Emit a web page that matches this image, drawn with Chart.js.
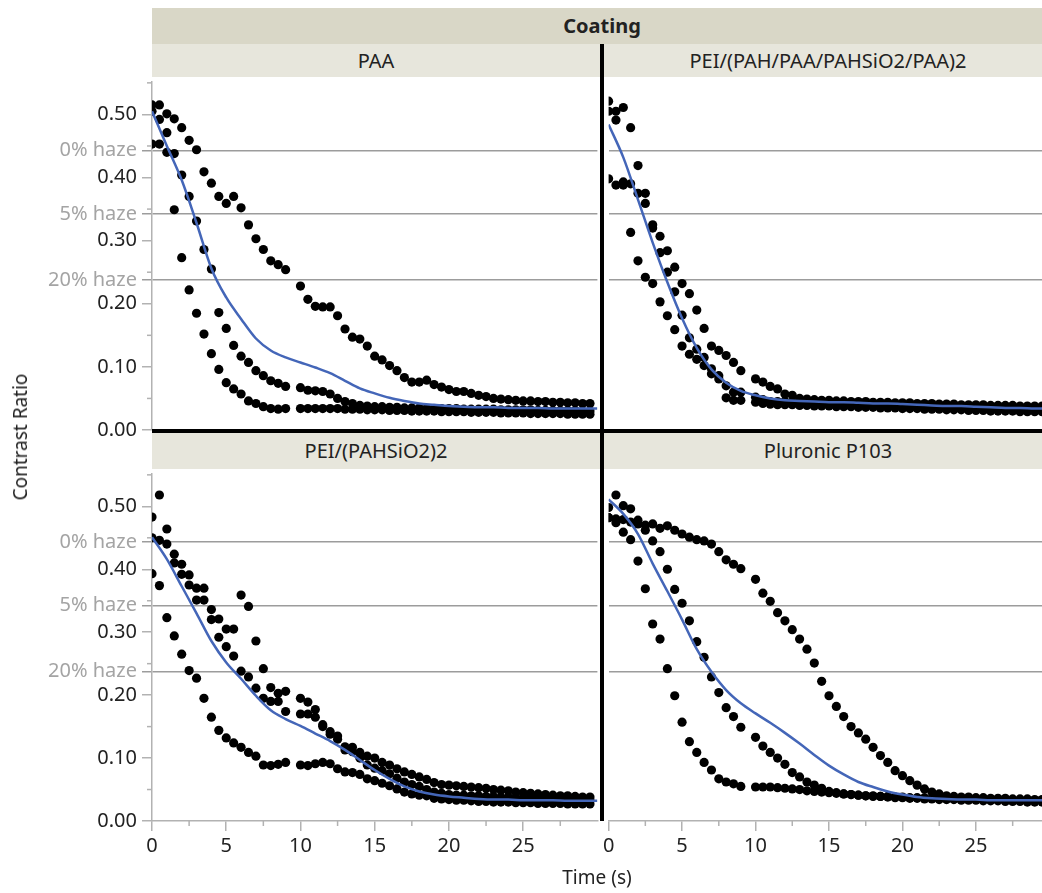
<!DOCTYPE html>
<html>
<head>
<meta charset="utf-8">
<script src="https://cdn.jsdelivr.net/npm/chart.js@4.4.1/dist/chart.umd.min.js"></script>
<style>
  body { margin:0; width:1042px; height:893px; overflow:hidden; background:#fff; position:relative; font-family:"Noto Sans","Open Sans",sans-serif; color:#222; }
  canvas { position:absolute; }
  .hdr { position:absolute; background:#d9d7c7; font-weight:bold; font-size:20px; text-align:center; line-height:36px; }
  .strip { position:absolute; background:#e7e6dc; font-size:20px; text-align:center; }
  .bar { position:absolute; background:#000; }
  .lbl { position:absolute; font-size:19px; white-space:nowrap; }
</style>
</head>
<body>
<canvas id="cTL" width="602" height="373" style="left:0;top:77px"></canvas>
<canvas id="cTR" width="450" height="373" style="left:604px;top:77px"></canvas>
<canvas id="cBL" width="602" height="410" style="left:0;top:469px"></canvas>
<canvas id="cBR" width="450" height="410" style="left:604px;top:469px"></canvas>

<div class="hdr" style="left:152px;top:8px;width:900px;height:36px">Coating</div>
<div class="strip" style="left:152px;top:44px;width:448px;height:33px;line-height:33px">PAA</div>
<div class="strip" style="left:604px;top:44px;width:448px;height:33px;line-height:33px">PEI/(PAH/PAA/PAHSiO2/PAA)2</div>
<div class="strip" style="left:152px;top:433px;width:448px;height:36px;line-height:36px">PEI/(PAHSiO2)2</div>
<div class="strip" style="left:604px;top:433px;width:448px;height:36px;line-height:36px">Pluronic P103</div>
<div class="bar" style="left:152px;top:429px;width:900px;height:4px"></div>
<div class="bar" style="left:600px;top:44px;width:4px;height:777px"></div>
<div class="lbl" style="left:597px;top:877px;transform:translate(-50%,-50%)">Time (s)</div>
<div class="lbl" style="left:20px;top:437px;transform:translate(-50%,-50%) rotate(-90deg)">Contrast Ratio</div>

<script>
// measurement times (s); 9.5 s is missing in every run
const time = [0,0.5,1,1.5,2,2.5,3,3.5,4,4.5,5,5.5,6,6.5,7,7.5,8,8.5,9,
  10,10.5,11,11.5,12,12.5,13,13.5,14,14.5,15,15.5,16,16.5,17,17.5,18,18.5,19,19.5,
  20,20.5,21,21.5,22,22.5,23,23.5,24,24.5,25,25.5,26,26.5,27,27.5,28,28.5,29,29.5];
const fitTime = [0,1,2,3,4,5,6,7,8,9,10,11,12,13,14,15,16,17,18,19,20,21,22,23,24,25,26,27,28,29,30];

// PAA
const paaRun1 = [0.515,0.515,0.501,0.493,0.479,0.459,0.444,0.409,0.391,0.370,0.359,0.370,0.352,0.325,0.303,0.286,0.268,0.262,0.254,
  0.228,0.207,0.196,0.195,0.195,0.181,0.160,0.147,0.144,0.133,0.117,0.111,0.102,0.094,0.083,0.076,0.076,0.079,0.072,0.068,
  0.064,0.061,0.061,0.058,0.055,0.053,0.050,0.049,0.048,0.047,0.046,0.046,0.045,0.045,0.044,0.044,0.043,0.043,0.042,0.042];
const paaRun2 = [0.505,0.492,0.471,0.438,0.404,0.370,0.331,0.286,0.255,0.186,0.161,0.134,0.117,0.107,0.094,0.086,0.078,0.074,0.069,
  0.067,0.063,0.062,0.061,0.057,0.050,0.045,0.042,0.039,0.038,0.037,0.037,0.036,0.036,0.035,0.035,0.035,0.034,0.034,0.034,
  0.034,0.034,0.033,0.033,0.033,0.033,0.033,0.032,0.032,0.032,0.032,0.032,0.031,0.031,0.031,0.031,0.031,0.031,0.030,0.030];
const paaRun3 = [0.453,0.453,0.440,0.349,0.273,0.222,0.185,0.152,0.121,0.096,0.075,0.065,0.057,0.046,0.042,0.037,0.034,0.033,0.034,
  0.034,0.034,0.034,0.034,0.034,0.034,0.033,0.033,0.033,0.032,0.032,0.032,0.031,0.031,0.031,0.030,0.030,0.030,0.030,0.029,
  0.029,0.029,0.029,0.028,0.028,0.028,0.028,0.027,0.027,0.027,0.027,0.026,0.026,0.026,0.026,0.026,0.025,0.025,0.025,0.025];
const paaFit = [0.505,0.450,0.396,0.328,0.256,0.210,0.176,0.145,0.126,0.115,0.107,0.099,0.090,0.078,0.066,0.058,
  0.051,0.046,0.042,0.040,0.038,0.037,0.036,0.036,0.035,0.035,0.035,0.034,0.034,0.034,0.034];

// PEI/(PAH/PAA/PAHSiO2/PAA)2
const peiMultiRun1 = [0.521,0.505,0.511,0.479,0.419,0.375,0.325,0.307,0.284,0.258,0.232,0.216,0.190,0.161,0.133,0.126,0.118,0.107,0.094,
  0.081,0.076,0.069,0.065,0.057,0.055,0.050,0.049,0.048,0.047,0.047,0.046,0.046,0.045,0.045,0.045,0.044,0.044,0.044,0.043,
  0.043,0.043,0.042,0.042,0.042,0.041,0.041,0.041,0.040,0.040,0.040,0.040,0.039,0.039,0.039,0.039,0.038,0.038,0.038,0.038];
const peiMultiRun2 = [0.505,0.491,0.393,0.390,0.375,0.359,0.320,0.281,0.250,0.219,0.182,0.146,0.128,0.115,0.097,0.086,0.070,0.060,0.060,
  0.052,0.048,0.045,0.045,0.045,0.044,0.044,0.043,0.043,0.042,0.042,0.042,0.041,0.041,0.041,0.040,0.040,0.040,0.039,0.039,
  0.039,0.038,0.038,0.038,0.037,0.037,0.037,0.036,0.036,0.036,0.035,0.035,0.035,0.034,0.034,0.034,0.033,0.033,0.033,0.033];
const peiMultiRun3 = [0.398,0.388,0.388,0.313,0.268,0.242,0.232,0.203,0.181,0.159,0.133,0.120,0.112,0.102,0.089,0.081,0.051,0.047,0.047,
  0.044,0.042,0.041,0.040,0.040,0.040,0.039,0.039,0.038,0.038,0.038,0.037,0.037,0.037,0.036,0.036,0.036,0.035,0.035,0.035,
  0.034,0.034,0.034,0.033,0.033,0.033,0.032,0.032,0.032,0.031,0.031,0.031,0.030,0.030,0.030,0.030,0.029,0.029,0.029,0.029];
const peiMultiFit = [0.484,0.432,0.365,0.297,0.234,0.177,0.130,0.096,0.075,0.062,0.055,0.050,0.047,0.046,0.045,0.044,
  0.044,0.043,0.042,0.042,0.041,0.040,0.039,0.038,0.038,0.037,0.036,0.035,0.035,0.034,0.034];

// PEI/(PAHSiO2)2
const peiSiRun1 = [0.483,0.518,0.464,0.424,0.408,0.391,0.370,0.370,0.336,0.321,0.305,0.305,0.359,0.341,0.286,0.242,0.212,0.203,0.206,
  0.195,0.189,0.177,0.153,0.142,0.135,0.118,0.117,0.109,0.103,0.100,0.093,0.089,0.083,0.078,0.074,0.070,0.066,0.061,0.058,
  0.057,0.056,0.055,0.054,0.053,0.052,0.050,0.049,0.048,0.046,0.045,0.044,0.043,0.042,0.041,0.040,0.040,0.039,0.038,0.038];
const peiSiRun2 = [0.450,0.446,0.440,0.410,0.392,0.375,0.351,0.351,0.320,0.292,0.277,0.262,0.238,0.229,0.211,0.195,0.190,0.190,0.174,
  0.170,0.170,0.165,0.150,0.138,0.130,0.113,0.110,0.100,0.089,0.084,0.080,0.075,0.068,0.062,0.058,0.055,0.050,0.046,0.044,
  0.042,0.041,0.041,0.040,0.040,0.039,0.039,0.038,0.038,0.037,0.037,0.036,0.036,0.035,0.035,0.034,0.034,0.034,0.033,0.033];
const peiSiRun3 = [0.393,0.374,0.323,0.294,0.265,0.239,0.227,0.195,0.165,0.144,0.132,0.124,0.117,0.109,0.103,0.089,0.088,0.090,0.093,
  0.089,0.088,0.091,0.093,0.091,0.083,0.078,0.077,0.074,0.067,0.064,0.060,0.056,0.051,0.046,0.043,0.041,0.040,0.036,0.035,
  0.034,0.033,0.033,0.032,0.031,0.031,0.030,0.030,0.030,0.029,0.029,0.029,0.028,0.028,0.028,0.028,0.027,0.027,0.027,0.027];
const peiSiFit = [0.451,0.416,0.373,0.330,0.286,0.252,0.226,0.199,0.176,0.162,0.151,0.139,0.127,0.113,0.097,0.081,
  0.067,0.055,0.047,0.042,0.039,0.037,0.035,0.034,0.034,0.033,0.033,0.033,0.032,0.032,0.032];

// Pluronic P103
const pluRun1 = [0.482,0.480,0.479,0.475,0.472,0.470,0.472,0.465,0.469,0.462,0.456,0.451,0.447,0.445,0.440,0.428,0.415,0.408,0.401,
  0.384,0.362,0.349,0.331,0.318,0.304,0.289,0.273,0.251,0.222,0.199,0.182,0.166,0.150,0.140,0.130,0.117,0.104,0.093,0.080,
  0.072,0.064,0.057,0.051,0.046,0.043,0.040,0.039,0.038,0.038,0.037,0.037,0.036,0.036,0.036,0.035,0.035,0.035,0.034,0.034];
const pluRun2 = [0.498,0.518,0.501,0.496,0.478,0.462,0.445,0.428,0.400,0.368,0.346,0.318,0.285,0.260,0.229,0.204,0.180,0.166,0.149,
  0.133,0.119,0.109,0.100,0.090,0.077,0.070,0.062,0.057,0.052,0.047,0.045,0.043,0.042,0.041,0.040,0.040,0.039,0.039,0.038,
  0.038,0.037,0.037,0.037,0.036,0.036,0.036,0.035,0.035,0.035,0.035,0.034,0.034,0.034,0.034,0.033,0.033,0.033,0.033,0.033];
const pluRun3 = [0.482,0.474,0.459,0.447,0.413,0.369,0.313,0.289,0.242,0.199,0.157,0.126,0.109,0.093,0.081,0.067,0.062,0.059,0.055,
  0.054,0.054,0.054,0.053,0.052,0.051,0.050,0.048,0.047,0.046,0.045,0.044,0.043,0.042,0.041,0.040,0.039,0.039,0.038,0.037,
  0.037,0.036,0.036,0.035,0.035,0.034,0.034,0.034,0.033,0.033,0.033,0.032,0.032,0.032,0.031,0.031,0.031,0.030,0.030,0.030];
const pluFit = [0.511,0.488,0.456,0.409,0.365,0.320,0.273,0.237,0.208,0.187,0.171,0.156,0.140,0.123,0.105,0.088,
  0.074,0.062,0.054,0.047,0.042,0.038,0.036,0.035,0.034,0.034,0.033,0.033,0.033,0.033,0.033];

// axes
const yMajorTicks = [0, 0.1, 0.2, 0.3, 0.4, 0.5];
const yMinorTicks = [0.05, 0.15, 0.25, 0.35, 0.45, 0.55];
const hazeValues = [0.443, 0.342, 0.2375];
const hazeLabels = ["0% haze", "5% haze", "20% haze"];
const xMajorTicks = [0, 5, 10, 15, 20, 25];
const xMinorTicks = [2.5, 7.5, 12.5, 17.5, 22.5, 27.5];

Chart.defaults.font.family = '"Noto Sans","Open Sans",sans-serif';
Chart.defaults.font.size = 20;
Chart.defaults.color = "#222";

const AXIS_GREY = "#b2b2b2";
const HAZE_GREY = "#9c9c9c";
const FIT_BLUE = "#4466b8";

const isHaze = v => hazeValues.indexOf(v) >= 0;
const yTickList = yMajorTicks.concat(hazeValues).sort((a, b) => a - b);

// short minor tick marks, placed through the scales
const minorTicks = {
  id: "minorTicks",
  afterDraw(chart, args, opts){
    const ctx = chart.ctx;
    ctx.save();
    ctx.strokeStyle = AXIS_GREY;
    ctx.lineWidth = 1.5;
    if (opts.y){
      const s = chart.scales.y;
      yMinorTicks.forEach(v => {
        const py = s.getPixelForValue(v);
        ctx.beginPath(); ctx.moveTo(s.right - 5, py); ctx.lineTo(s.right, py); ctx.stroke();
      });
    }
    if (opts.x){
      const s = chart.scales.x;
      xMinorTicks.forEach(v => {
        const px = s.getPixelForValue(v);
        ctx.beginPath(); ctx.moveTo(px, s.top); ctx.lineTo(px, s.top + 5); ctx.stroke();
      });
    }
    ctx.restore();
  }
};

function runSet(vals){
  return {
    data: time.map((t, i) => ({ x: t, y: vals[i] })),
    showLine: false,
    pointRadius: 4.6,
    pointBackgroundColor: "#000",
    pointBorderWidth: 0,
    clip: 0
  };
}

function makePanel(id, runs, fit, showY, showX){
  const datasets = [{
    data: fitTime.map((t, i) => ({ x: t, y: fit[i] })),
    borderColor: FIT_BLUE,
    borderWidth: 2.5,
    pointRadius: 0,
    cubicInterpolationMode: "monotone",
    clip: 0
  }].concat(runs.map(runSet));

  new Chart(document.getElementById(id).getContext("2d"), {
    type: "line",
    data: { datasets },
    plugins: [minorTicks],
    options: {
      responsive: false,
      animation: false,
      layout: { padding: { top: 0, left: 0, right: 0, bottom: showX ? 0 : 20 } },
      plugins: { legend: { display: false }, tooltip: { enabled: false }, minorTicks: { y: showY, x: showX } },
      scales: {
        x: {
          type: "linear",
          min: 0, max: 30,
          display: showX,
          afterBuildTicks: s => { s.ticks = xMajorTicks.map(v => ({ value: v })); },
          afterFit: s => { s.height = showX ? 58 : 0; s.paddingLeft = 0; s.paddingRight = 0; },
          border: { color: AXIS_GREY, width: 1.5 },
          grid: { drawOnChartArea: false, tickLength: 10, tickColor: AXIS_GREY, lineWidth: 1.5 },
          ticks: { padding: 3, color: "#222", maxRotation: 0, autoSkip: false, callback: v => String(v) }
        },
        y: {
          type: "linear",
          min: 0, max: 0.552,
          afterBuildTicks: s => { s.ticks = yTickList.map(v => ({ value: v })); },
          afterFit: s => { s.width = showY ? 152 : 0; s.paddingTop = 0; s.paddingBottom = 0; },
          border: { display: showY, color: AXIS_GREY, width: 1.5 },
          grid: {
            drawTicks: showY,
            tickLength: 10,
            lineWidth: 1.5,
            tickColor: ctx => isHaze(ctx.tick.value) ? HAZE_GREY : AXIS_GREY,
            color: ctx => isHaze(ctx.tick.value) ? HAZE_GREY : "rgba(0,0,0,0)"
          },
          ticks: {
            display: showY,
            autoSkip: false,
            padding: 5,
            color: ctx => isHaze(ctx.tick.value) ? "#a4a4a4" : "#222",
            callback: v => isHaze(v) ? hazeLabels[hazeValues.indexOf(v)] : v.toFixed(2)
          }
        }
      }
    }
  });
}

makePanel("cTL", [paaRun1, paaRun2, paaRun3], paaFit, true, false);
makePanel("cTR", [peiMultiRun1, peiMultiRun2, peiMultiRun3], peiMultiFit, false, false);
makePanel("cBL", [peiSiRun1, peiSiRun2, peiSiRun3], peiSiFit, true, true);
makePanel("cBR", [pluRun1, pluRun2, pluRun3], pluFit, false, true);
</script>
</body>
</html>
